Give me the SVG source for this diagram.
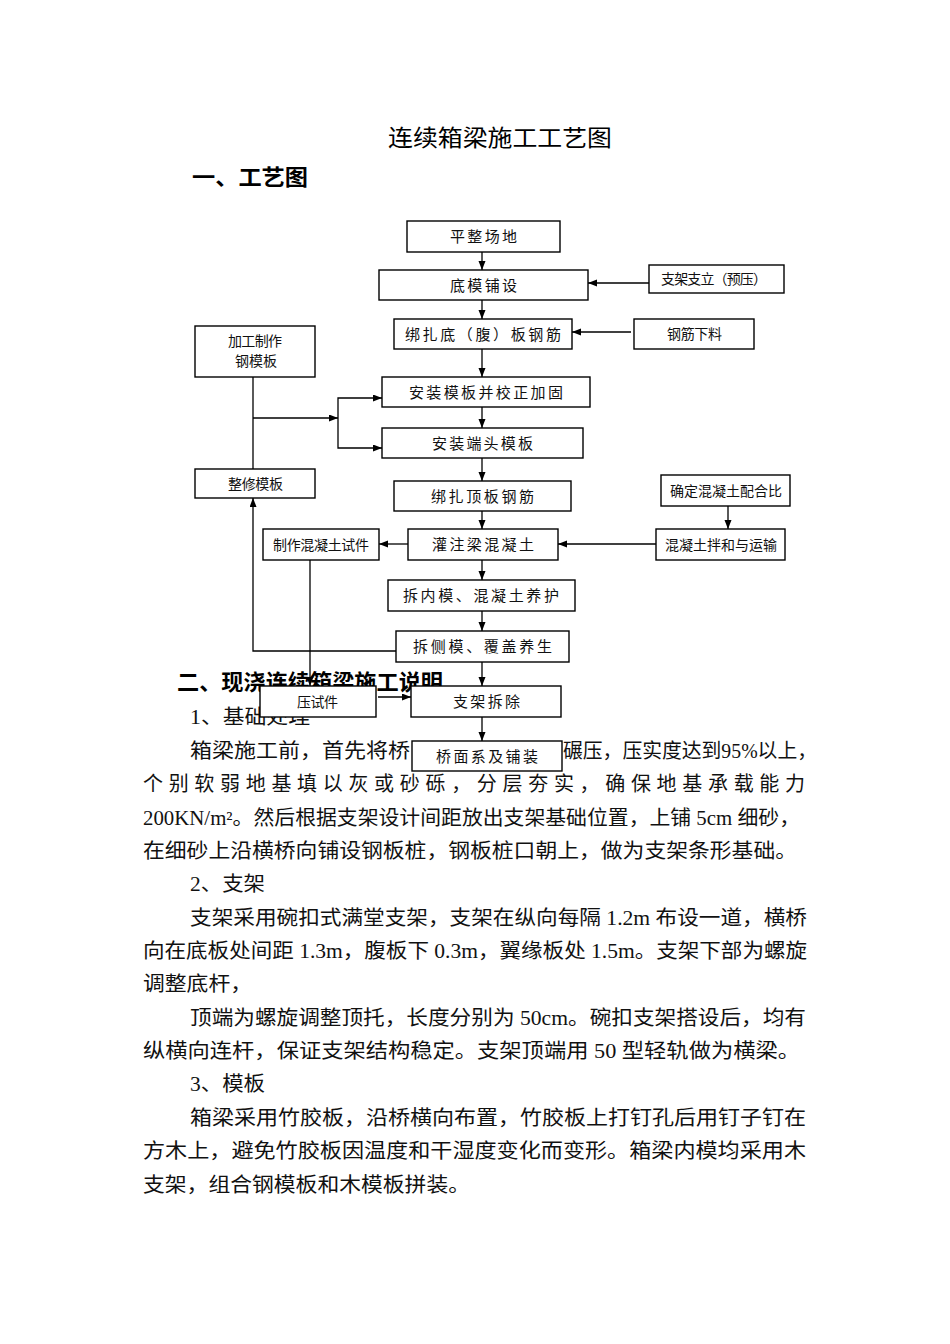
<svg xmlns="http://www.w3.org/2000/svg" width="950" height="1344" viewBox="0 0 950 1344">
<defs>
<style>
.bg{fill:#ffffff}
.box{fill:#ffffff;stroke:#000;stroke-width:1.4}
.ln{fill:none;stroke:#000;stroke-width:1.3}
.arr{marker-end:url(#ah)}
.bt{font-family:"Liberation Serif","Noto Sans CJK SC",serif;font-size:15px;fill:#111;text-anchor:middle}
.st{font-family:"Liberation Serif","Noto Sans CJK SC",serif;font-size:14px;fill:#111;text-anchor:middle}
.body{font-family:"Liberation Serif","Noto Sans CJK SC",serif;font-size:20px;fill:#111}
.hd{font-family:"Liberation Sans","Noto Sans CJK SC",sans-serif;font-size:22px;font-weight:bold;fill:#000}
.title{font-family:"Liberation Sans","Noto Sans CJK SC",sans-serif;font-size:23px;fill:#000}
</style>
<marker id="ah" markerUnits="userSpaceOnUse" markerWidth="10" markerHeight="8" refX="9" refY="3.5" orient="auto">
<path d="M0,0 L9,3.5 L0,7 z" fill="#000"/>
</marker>
</defs>
<rect class="bg" x="0" y="0" width="950" height="1344"/>

<g id="headings">
<text class="title" x="388" y="146" textLength="224" lengthAdjust="spacingAndGlyphs">连续箱梁施工工艺图</text>
<text class="hd" x="192" y="185" textLength="116" lengthAdjust="spacingAndGlyphs">一、工艺图</text>
<text class="hd" x="177" y="690" textLength="266" lengthAdjust="spacingAndGlyphs">二、现浇连续箱梁施工说明</text>
</g>

<g id="body-text">
<text class="body" x="190" y="724" textLength="120" lengthAdjust="spacingAndGlyphs">1、基础处理</text>
<text class="body" x="190" y="758" textLength="220" lengthAdjust="spacingAndGlyphs">箱梁施工前，首先将桥</text>
<text class="body" x="563" y="758" textLength="254" lengthAdjust="spacingAndGlyphs">碾压，压实度达到95%以上，</text>
<text class="body" x="143" y="791" textLength="662" lengthAdjust="spacing">个别软弱地基填以灰或砂砾，分层夯实，确保地基承载能力</text>
<text class="body" x="143" y="825" textLength="657" lengthAdjust="spacingAndGlyphs">200KN/m²。然后根据支架设计间距放出支架基础位置，上铺 5cm 细砂，</text>
<text class="body" x="143" y="858" textLength="654" lengthAdjust="spacingAndGlyphs">在细砂上沿横桥向铺设钢板桩，钢板桩口朝上，做为支架条形基础。</text>
<text class="body" x="190" y="891" textLength="75" lengthAdjust="spacingAndGlyphs">2、支架</text>
<text class="body" x="190" y="925" textLength="617" lengthAdjust="spacingAndGlyphs">支架采用碗扣式满堂支架，支架在纵向每隔 1.2m 布设一道，横桥</text>
<text class="body" x="143" y="958" textLength="664" lengthAdjust="spacingAndGlyphs">向在底板处间距 1.3m，腹板下 0.3m，翼缘板处 1.5m。支架下部为螺旋</text>
<text class="body" x="143" y="991" textLength="109" lengthAdjust="spacingAndGlyphs">调整底杆，</text>
<text class="body" x="190" y="1025" textLength="616" lengthAdjust="spacingAndGlyphs">顶端为螺旋调整顶托，长度分别为 50cm。碗扣支架搭设后，均有</text>
<text class="body" x="143" y="1058" textLength="657" lengthAdjust="spacingAndGlyphs">纵横向连杆，保证支架结构稳定。支架顶端用 50 型轻轨做为横梁。</text>
<text class="body" x="190" y="1091" textLength="75" lengthAdjust="spacingAndGlyphs">3、模板</text>
<text class="body" x="190" y="1125" textLength="616" lengthAdjust="spacingAndGlyphs">箱梁采用竹胶板，沿桥横向布置，竹胶板上打钉孔后用钉子钉在</text>
<text class="body" x="143" y="1158" textLength="663" lengthAdjust="spacingAndGlyphs">方木上，避免竹胶板因温度和干湿度变化而变形。箱梁内模均采用木</text>
<text class="body" x="143" y="1192" textLength="327" lengthAdjust="spacingAndGlyphs">支架，组合钢模板和木模板拼装。</text>
</g>

<g id="connectors">
<line class="ln arr" x1="482" y1="252" x2="482" y2="270"/>
<line class="ln arr" x1="482" y1="300" x2="482" y2="319"/>
<line class="ln arr" x1="482" y1="349" x2="482" y2="377"/>
<line class="ln arr" x1="482" y1="407" x2="482" y2="428"/>
<line class="ln arr" x1="482" y1="458" x2="482" y2="481"/>
<line class="ln arr" x1="482" y1="511" x2="482" y2="529"/>
<line class="ln arr" x1="482" y1="560" x2="482" y2="580"/>
<line class="ln arr" x1="482" y1="611" x2="482" y2="631"/>
<line class="ln arr" x1="482" y1="662" x2="482" y2="686"/>
<line class="ln arr" x1="482" y1="717" x2="482" y2="741"/>
<line class="ln arr" x1="649" y1="283" x2="588" y2="283"/>
<line class="ln arr" x1="631" y1="332" x2="572" y2="332"/>
<line class="ln" x1="253" y1="377" x2="253" y2="469"/>
<line class="ln arr" x1="253" y1="418" x2="338" y2="418"/>
<polyline class="ln arr" points="338,418 338,398 382,398"/>
<polyline class="ln arr" points="338,418 338,448 382,448"/>
<polyline class="ln arr" points="396,651 253,651 253,498"/>
<line class="ln arr" x1="408" y1="544" x2="379" y2="544"/>
<line class="ln arr" x1="310" y1="560" x2="310" y2="686"/>
<line class="ln arr" x1="378" y1="697" x2="411" y2="697"/>
<line class="ln arr" x1="728" y1="506" x2="728" y2="529"/>
<line class="ln arr" x1="656" y1="544" x2="558" y2="544"/>
</g>

<g id="n1"><rect class="box" x="407" y="221" width="153" height="31"/><text class="bt" x="483.5" y="242" textLength="67" lengthAdjust="spacing">平整场地</text></g>
<g id="n2"><rect class="box" x="379" y="270" width="209" height="30"/><text class="bt" x="483.5" y="290.5" textLength="67" lengthAdjust="spacing">底模铺设</text></g>
<g id="n3"><rect class="box" x="394" y="319" width="178" height="30"/><text class="bt" x="483" y="339.5" textLength="156" lengthAdjust="spacing">绑扎底（腹）板钢筋</text></g>
<g id="n4"><rect class="box" x="382" y="377" width="208" height="30"/><text class="bt" x="486" y="397.5" textLength="154" lengthAdjust="spacing">安装模板并校正加固</text></g>
<g id="n5"><rect class="box" x="382" y="428" width="201" height="30"/><text class="bt" x="482.5" y="448.5" textLength="101" lengthAdjust="spacing">安装端头模板</text></g>
<g id="n6"><rect class="box" x="394" y="481" width="177" height="30"/><text class="bt" x="482.5" y="501.5" textLength="103" lengthAdjust="spacing">绑扎顶板钢筋</text></g>
<g id="n7"><rect class="box" x="408" y="529" width="150" height="31"/><text class="bt" x="483" y="550" textLength="102" lengthAdjust="spacing">灌注梁混凝土</text></g>
<g id="n8"><rect class="box" x="388" y="580" width="187" height="31"/><text class="bt" x="481" y="601" textLength="156" lengthAdjust="spacing">拆内模、混凝土养护</text></g>
<g id="n9"><rect class="box" x="396" y="631" width="173" height="31"/><text class="bt" x="482.5" y="652" textLength="139" lengthAdjust="spacing">拆侧模、覆盖养生</text></g>
<g id="n10"><rect class="box" x="411" y="686" width="150" height="31"/><text class="bt" x="486.5" y="707" textLength="67" lengthAdjust="spacing">支架拆除</text></g>
<g id="n11"><rect class="box" x="412" y="741" width="150" height="30"/><text class="bt" x="487" y="761.5" textLength="102" lengthAdjust="spacing">桥面系及铺装</text></g>
<g id="s1"><rect class="box" x="649" y="265" width="135" height="28"/><text class="st" x="714" y="284" textLength="106" lengthAdjust="spacing">支架支立（预压）</text></g>
<g id="s2"><rect class="box" x="634" y="319" width="120" height="30"/><text class="st" x="694.5" y="339" textLength="55" lengthAdjust="spacing">钢筋下料</text></g>
<g id="s3"><rect class="box" x="195" y="326" width="120" height="51"/><text class="st" x="255" y="346" textLength="54" lengthAdjust="spacing">加工制作</text><text class="st" x="256" y="366" textLength="42" lengthAdjust="spacing">钢模板</text></g>
<g id="s4"><rect class="box" x="195" y="469" width="120" height="29"/><text class="st" x="255.5" y="488.5" textLength="55" lengthAdjust="spacing">整修模板</text></g>
<g id="s5"><rect class="box" x="263" y="529" width="116" height="31"/><text class="st" x="321" y="549.5" textLength="96" lengthAdjust="spacing">制作混凝土试件</text></g>
<g id="s6"><rect class="box" x="260" y="686" width="116" height="31"/><text class="st" x="317.5" y="706.5" textLength="41" lengthAdjust="spacing">压试件</text></g>
<g id="s7"><rect class="box" x="661" y="475" width="129" height="31"/><text class="st" x="726" y="495.5" textLength="112" lengthAdjust="spacing">确定混凝土配合比</text></g>
<g id="s8"><rect class="box" x="656" y="529" width="129" height="31"/><text class="st" x="721" y="549.5" textLength="112" lengthAdjust="spacing">混凝土拌和与运输</text></g>
</svg>
